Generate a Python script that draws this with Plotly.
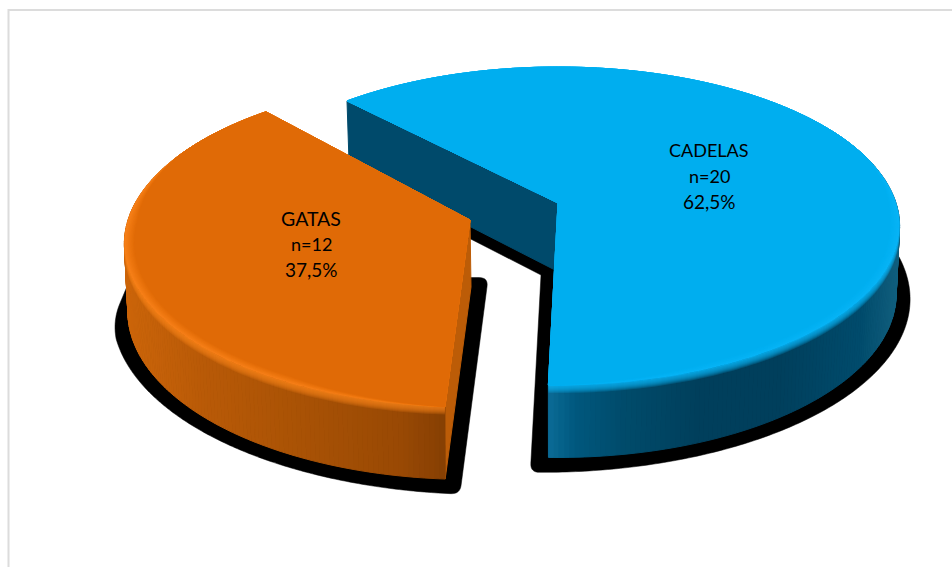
import math
import plotly.graph_objects as go

# Data
categories = ["CADELAS", "GATAS"]
counts = [20, 12]

# Colours
FACE = {"CADELAS": "#00AEEF", "GATAS": "#E06A06"}
BEVEL = {"CADELAS": "#08B4F6", "GATAS": "#F78018"}
INNER = {"CADELAS": "#004A6B", "GATAS": "#BC5C07"}
WALL_STOPS = {
    "CADELAS": [(550, "#0A6A95"), (575, "#00587E"), (620, "#004C6C"), (700, "#003F5C"), (780, "#003F5C"), (860, "#004B6C"), (900, "#12607F")],
    "GATAS": [(125, "#CC650A"), (200, "#B95A07"), (300, "#A95205"), (400, "#994904"), (450, "#843E03")],
}

# Pie geometry in page pixels, with a simple perspective on the disc plane
GEOM = {
    "CADELAS": dict(cx=558, cy=203, rx=338, ry=155.7, apex_dx=-3, turn=0.6,
                    sh_cx=745, sh_sx=1.092, sh_y0=200, sh_sy=0.058, arc_from=6),
    "GATAS": dict(cx=470, cy=220, rx=342, ry=160, apex_dx=1, turn=-1.6,
                  sh_cx=288, sh_sx=1.094, sh_y0=264, sh_sy=0.07, arc_from=-170),
}
PERSPECTIVE = 0.1446
DEPTH = 67
START_ANGLE = 133
SHADOW_CORNER = 9

LABEL_POS = {"CADELAS": (709, 150), "GATAS": (311, 218)}
LEADING = 25.5
LABEL_SIZE = {"CADELAS": 18, "GATAS": 19.5}
PERCENT_SIZE = 19

total = sum(counts)


def hex_rgb(c):
    return tuple(int(c[i:i + 2], 16) for i in (1, 3, 5))


def mix(a, b, t):
    ra, rb = hex_rgb(a), hex_rgb(b)
    return "#%02X%02X%02X" % tuple(round(p + (q - p) * t) for p, q in zip(ra, rb))


def wall_colour(name, x):
    stops = WALL_STOPS[name]
    if x <= stops[0][0]:
        return stops[0][1]
    for (x0, c0), (x1, c1) in zip(stops, stops[1:]):
        if x <= x1:
            return mix(c0, c1, (x - x0) / (x1 - x0))
    return stops[-1][1]


def top_point(g, deg, r=1.0):
    u, v = r * math.cos(math.radians(deg)), r * math.sin(math.radians(deg))
    w = 1 + PERSPECTIVE * v
    return g["cx"] + g["rx"] * u / w, g["cy"] - g["ry"] * v / w


def low_point(g, deg):
    x, y = top_point(g, deg)
    w = 1 + PERSPECTIVE * math.sin(math.radians(deg))
    return g["cx"] + (x - g["cx"]) * 0.99, y + DEPTH / math.sqrt(w)


def arc(fn, g, a0, a1, n=80):
    return [fn(g, a0 + (a1 - a0) * i / n) for i in range(n + 1)]


def fillet(before, corner, after, radius, n=8):
    """Quadratic curve replacing a corner, reaching `radius` along each side."""
    def toward(p):
        d = math.hypot(p[0] - corner[0], p[1] - corner[1])
        return corner[0] + (p[0] - corner[0]) * radius / d, corner[1] + (p[1] - corner[1]) * radius / d
    a, b = toward(before), toward(after)
    out = []
    for i in range(n + 1):
        t = i / n
        out.append(((1 - t) ** 2 * a[0] + 2 * t * (1 - t) * corner[0] + t ** 2 * b[0],
                    (1 - t) ** 2 * a[1] + 2 * t * (1 - t) * corner[1] + t ** 2 * b[1]))
    return out


fig = go.Figure()


def poly(pts, fill, line_width=1, line_colour=None):
    xs = [p[0] for p in pts] + [pts[0][0]]
    ys = [p[1] for p in pts] + [pts[0][1]]
    fig.add_trace(go.Scatter(
        x=xs, y=ys, mode="lines", fill="toself", fillcolor=fill,
        line=dict(color=line_colour or fill, width=line_width, simplify=False),
        hoverinfo="skip", showlegend=False,
    ))


def shadow_of(g, p):
    return (g["sh_cx"] + (p[0] - g["sh_cx"]) * g["sh_sx"],
            p[1] + (p[1] - g["sh_y0"]) * g["sh_sy"])


# Slices run clockwise from the start angle, each spanning its share of the circle
spans = {}
angle = START_ANGLE
for name, n in zip(categories, counts):
    turn = GEOM[name]["turn"]
    spans[name] = (angle + turn, angle + turn - 360 * n / total)
    angle = spans[name][1] - turn

for name in categories:
    g = GEOM[name]
    a0, a1 = spans[name]
    apex = (g["cx"], g["cy"])
    apex_low = (g["cx"] + g["apex_dx"], g["cy"] + DEPTH)

    # Drop shadow under the lower outline, with its outer corners rounded
    if name == "CADELAS":
        lower = [shadow_of(g, p) for p in arc(low_point, g, g["arc_from"], a1, 160)]
        tip = (apex_low[0] - 14, apex_low[1] + 5)
        far = low_point(g, a0)
        hidden = (tip[0] - 0.6 * (apex_low[0] - far[0]), tip[1] - 0.6 * (apex_low[1] - far[1]))
        corner = lower[-1]
        outline = lower[:-6] + fillet(lower[-7], corner, tip, SHADOW_CORNER) + [tip, hidden]
    else:
        lower = [shadow_of(g, p) for p in arc(low_point, g, a0, g["arc_from"], 160)]
        right = shadow_of(g, apex_low)
        top = (right[0], right[1] - 11)
        side = low_point(g, -178)
        edge = (side[0] - 3, side[1] - 6)
        inward = (edge[0] + 40, top[1])
        corner = lower[0]
        # The shadow's left end curves up behind the wall instead of stopping at a kink
        outline = (fillet(top, corner, lower[6], SHADOW_CORNER) + lower[6:-12]
                   + fillet(lower[-13], lower[-1], edge, 18, n=12) + [edge, inward]
                   + fillet(inward, top, corner, SHADOW_CORNER))
    poly(outline, "#000000", line_width=0.5)

    # Straight cut face that turns towards the viewer
    poly([top_point(g, a0), apex, apex_low, low_point(g, a0)], INNER[name])

    # Outer wall as narrow shaded strips
    w0, w1 = (30, a1) if name == "CADELAS" else (a0, -215)
    steps = 160
    for i in range(steps):
        s0 = w0 + (w1 - w0) * i / steps
        s1 = w0 + (w1 - w0) * (i + 1) / steps
        t0, t1 = top_point(g, s0), top_point(g, s1)
        b0, b1 = low_point(g, s0), low_point(g, s1)
        poly([t0, t1, b1, b0], wall_colour(name, (t0[0] + t1[0]) / 2))

    # Soft transition from the rim down into the wall: nested translucent bands
    rim0, rim1 = (20, a1) if name == "CADELAS" else (a0, -205)
    rim = arc(top_point, g, rim0, rim1, 120)
    red, grn, blu = hex_rgb(BEVEL[name])
    for k in range(8, 0, -1):
        band = rim + [(x, y + k) for x, y in rim[::-1]]
        poly(band, f"rgba({red},{grn},{blu},0.2)", line_width=0, line_colour="rgba(0,0,0,0)")

    # Rounded edge: nested opaque tops stepping from the bevel colour to the face,
    # with the bevel narrowing to nothing at the ends of the near rim
    layers = 8
    for k in range(layers + 1):
        def rimmed(g_, deg):
            lo, hi = sorted((rim0, rim1))
            edge_deg = min(deg - lo, hi - deg)
            env = max(0.0, min(1.0, edge_deg / 25.0))
            return top_point(g_, deg, 1.0 - 0.0035 * k * env)
        poly([apex] + arc(rimmed, g, a0, a1, 180), mix(BEVEL[name], FACE[name], k / layers), line_width=0.5)

# Labels, one annotation per line to control the leading
for name, n in zip(categories, counts):
    pct = f"{100 * n / total:.1f}".replace(".", ",")
    x, y = LABEL_POS[name]
    rows = [(name, LABEL_SIZE[name]), (f"n={n}", 18), (f"{pct}%", PERCENT_SIZE)]
    for row, (line, size) in enumerate(rows):
        fig.add_annotation(
            x=x, y=y + row * LEADING, text=line, showarrow=False,
            font=dict(family="Lato", size=size, color="#000000"), align="center",
        )

fig.update_layout(
    width=952, height=567,
    margin=dict(l=0, r=0, t=0, b=0),
    paper_bgcolor="#FFFFFF", plot_bgcolor="#FFFFFF",
    xaxis=dict(range=[0, 952], visible=False, fixedrange=True),
    yaxis=dict(range=[567, 0], visible=False, fixedrange=True),
    showlegend=False,
    # Chart-area frame: only its top and left edges fall inside the page
    shapes=[
        dict(type="line", xref="paper", yref="paper", x0=8.5 / 952, x1=1, y0=1 - 10 / 567, y1=1 - 10 / 567,
             line=dict(color="#DCDCDC", width=2), layer="below"),
        dict(type="line", xref="paper", yref="paper", x0=8.5 / 952, x1=8.5 / 952, y0=0, y1=1 - 9 / 567,
             line=dict(color="#DCDCDC", width=2), layer="below"),
    ],
)

fig.write_html("out.html", config={"displayModeBar": False})
